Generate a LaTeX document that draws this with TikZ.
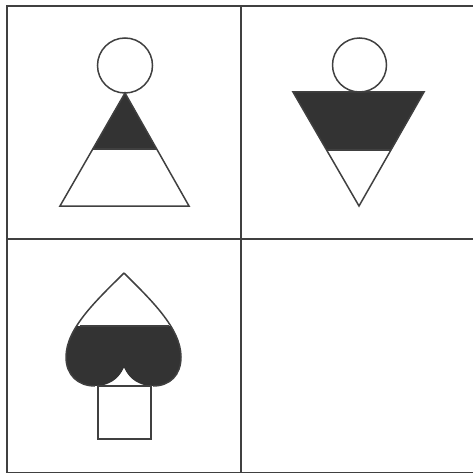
\documentclass[tikz,border=0pt]{standalone}
\usepackage{tikz}
\definecolor{inkGray}{RGB}{64, 64, 64}
\definecolor{fillDark}{RGB}{51, 51, 51}

\begin{document}
\begin{tikzpicture}[x=1pt, y=-1pt, line join=miter]
      \useasboundingbox (0,0) rectangle (473,473);
      % grid
      \draw[inkGray, line width=1.8pt] (7,6) rectangle (476,473);
      \draw[inkGray, line width=1.8pt] (241,6) -- (241,473);
      \draw[inkGray, line width=1.8pt] (7,239) -- (476,239);
      % figure 1
      \begin{scope}
        \clip (50,80) rectangle (200,149);
        \fill[fillDark] (125,93) -- (189,206) -- (60,206) -- cycle;
      \end{scope}
      \draw[inkGray, line width=1.5pt] (125,65.5) circle (27.5);
      \draw[inkGray, line width=1.5pt] (125,93) -- (189,206) -- (60,206) -- cycle;
      \begin{scope}
        \clip (125,93) -- (189,206) -- (60,206) -- cycle;
        \draw[inkGray, line width=1.5pt] (50,149) -- (200,149);
      \end{scope}
      % figure 2
      \begin{scope}
        \clip (280,92) rectangle (440,150);
        \fill[fillDark] (293,92) -- (424,92) -- (359,206) -- cycle;
      \end{scope}
      \draw[inkGray, line width=1.5pt] (359.5,65) circle (27);
      \draw[inkGray, line width=1.5pt] (293,92) -- (424,92) -- (359,206) -- cycle;
      \begin{scope}
        \clip (293,92) -- (424,92) -- (359,206) -- cycle;
        \draw[inkGray, line width=1.5pt] (280,150) -- (440,150);
      \end{scope}
      % figure 3
      \begin{scope}
        \clip (60,326) rectangle (190,400);
        \fill[fillDark] (124,273) .. controls (150,299) and (181,328) .. (181,357)
          .. controls (181,375) and (170,386) .. (153,386)
          .. controls (140,386) and (130,380) .. (124,368)
          .. controls (118,380) and (108,386) .. (95,386)
          .. controls (78,386) and (66,375) .. (66,357)
          .. controls (66,328) and (98,299) .. (124,273);
      \end{scope}
      \fill[white] (124,368) .. controls (130,380) and (136,386) .. (142,386)
        -- (106,386) .. controls (112,386) and (118,380) .. (124,368);
      \draw[inkGray, line width=1.5pt] (124,273) .. controls (150,299) and (181,328) .. (181,357)
        .. controls (181,375) and (170,386) .. (153,386);
      \draw[inkGray, line width=1.5pt] (124,273) .. controls (98,299) and (66,328) .. (66,357)
        .. controls (66,375) and (78,386) .. (95,386);
      \draw[inkGray, line width=1.5pt] (80,326) -- (169,326);
      \draw[inkGray, line width=1.5pt] (98,386) rectangle (151,439);
    \end{tikzpicture}
\end{document}
